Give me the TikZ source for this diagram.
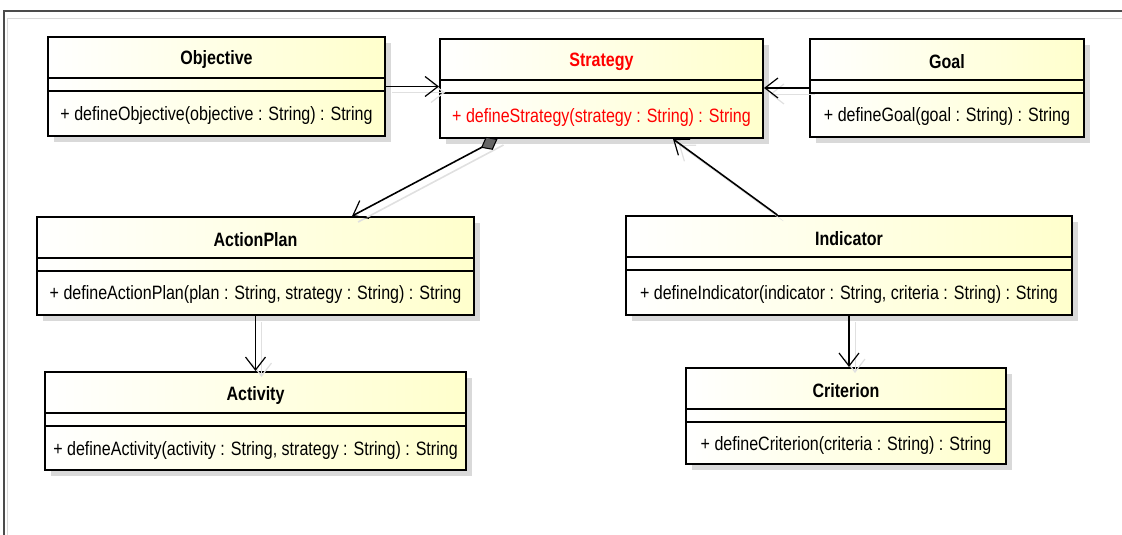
\documentclass[tikz,border=0pt]{standalone}
\usepackage{fontspec}
\setmainfont[FakeStretch=0.83]{Liberation Sans}
\usetikzlibrary{arrows.meta,shadows,calc}

\definecolor{classyellow}{RGB}{255,255,204}
\definecolor{stratred}{RGB}{255,0,0}

\tikzset{
  classbox/.style={draw=black, line width=1.5pt, inner sep=0pt,
    left color=white, right color=classyellow,
    drop shadow={shadow xshift=4.5pt, shadow yshift=-4.5pt, opacity=1, fill=black!15}},
  classdiv/.style={draw=black, line width=0.8pt},
  classname/.style={font=\fontsize{14.5}{17}\selectfont\bfseries, inner sep=0pt},
  classop/.style={font=\fontsize{14.5}{17}\selectfont, inner sep=0pt},
  conshadow/.style={preaction={draw=black!12, transform canvas={shift={(4.5pt,-4.5pt)}}}},
  assoc/.style={draw=black, line width=1.2pt, conshadow,
    -{Straight Barb[length=9.75pt,width=15pt,line width=0.9pt]}},
  compo/.style={draw=black, line width=1.2pt,
    {Diamond[length=14pt,width=11pt,fill=black!60,line width=0.8pt]}-{Straight Barb[length=9.75pt,width=15pt,line width=0.9pt]}}
}

% name, x1, y1, x2, y2, class name, operation, colour
\newcommand{\umlclass}[8]{%
  \node[classbox, minimum width={(#4-#2)*0.75pt}, minimum height={(#5-#3)*0.75pt}] (#1) at ({(#2+#4)/2},{(#3+#5)/2}) {};
  \draw[classdiv] ({#2},{#3+41}) -- ({#4},{#3+41});
  \draw[classdiv] ({#2},{#3+54}) -- ({#4},{#3+54});
  \node[classname, text=#8] (#1-name) at ({(#2+#4)/2},{#3+23}) {#6};
  \node[classop, text=#8] (#1-op) at ({(#2+#4)/2},{(#3+54+#5)/2+2}) {#7};
}

\begin{document}
\begin{tikzpicture}[x=0.75pt, y=-0.75pt]
  \useasboundingbox (0,0) rectangle (1122,535);
  % frame
  \draw[black!70, line width=1.5pt] (3.5,535) -- (3.5,11) -- (1122,11);
  \draw[black!15, line width=0.75pt] (7,535) -- (7,19) -- (1122,19);

  % classes
  \umlclass{Objective}{48}{37}{385}{136}{Objective}{+ defineObjective(objective : String) : String}{black}
  \umlclass{Strategy}{440}{39}{763}{138}{Strategy}{+ defineStrategy(strategy : String) : String}{stratred}
  \umlclass{Goal}{810}{39}{1084}{137}{Goal}{+ defineGoal(goal : String) : String}{black}
  \umlclass{ActionPlan}{37}{217}{474}{315}{ActionPlan}{+ defineActionPlan(plan : String, strategy : String) : String}{black}
  \umlclass{Indicator}{626}{216}{1072}{315}{Indicator}{+ defineIndicator(indicator : String, criteria : String) : String}{black}
  \umlclass{Activity}{45}{372}{466}{470}{Activity}{+ defineActivity(activity : String, strategy : String) : String}{black}
  \umlclass{Criterion}{686}{368}{1006}{464}{Criterion}{+ defineCriterion(criteria : String) : String}{black}

  % connectors
  \draw[assoc] (Objective.east) -- (Objective.east -| Strategy.west);
  \draw[assoc] (Goal.west) -- (Goal.west -| Strategy.east);
  \draw[black!12, line width=1.2pt, transform canvas={shift={(4.5pt,-4.5pt)}}] ($(Strategy.south west)!0.18!(Strategy.south east)$) -- ($(ActionPlan.north west)!0.72!(ActionPlan.north east)$);
  \draw[compo] ($(Strategy.south west)!0.18!(Strategy.south east)$) -- ($(ActionPlan.north west)!0.72!(ActionPlan.north east)$);
  \draw[assoc] ($(Indicator.north west)!0.34!(Indicator.north east)$) -- ($(Strategy.south west)!0.72!(Strategy.south east)$);
  \draw[assoc] (ActionPlan.south) -- (ActionPlan.south |- Activity.north);
  \draw[assoc] (Indicator.south) -- (Indicator.south |- Criterion.north);
\end{tikzpicture}
\end{document}
